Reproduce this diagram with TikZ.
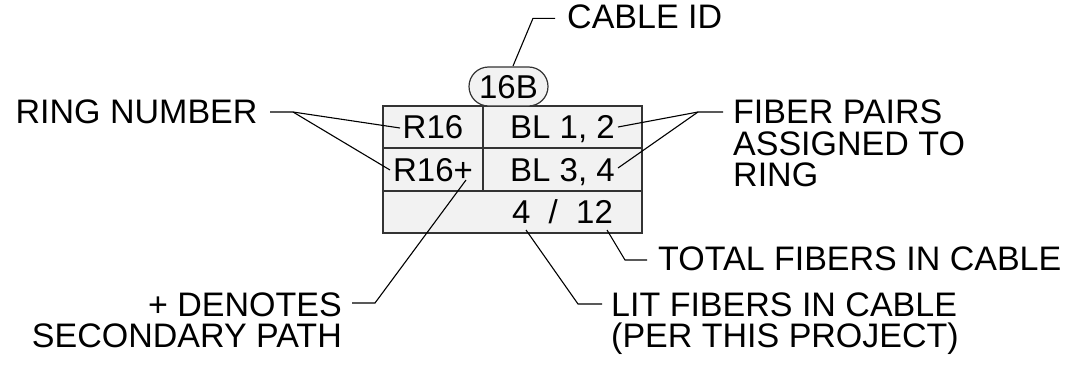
\documentclass[tikz,border=0pt]{standalone}
\usepackage{fontspec}
\setmainfont{Liberation Sans}
\begin{document}
\begin{tikzpicture}[x=1pt,y=-1pt,
  lbl/.style={inner sep=0pt, font=\fontsize{34}{31.5}\selectfont, align=left},
  cell/.style={draw=black!80, fill=black!5, line width=1.2pt, inner sep=0pt,
    text height=23pt, text depth=0pt, font=\fontsize{33}{33}\selectfont},
  lead/.style={line width=1.1pt, black}]
\useasboundingbox (0,0) rectangle (1078,380);
% table
\node[cell, minimum width=100pt, minimum height=42pt] (r1) at (433,127) {R16};
\node[cell, minimum width=159pt, minimum height=42pt] (b1) at (562.5,127) {BL 1, 2};
\node[cell, minimum width=100pt, minimum height=43pt] (r2) at (433,169.5) {R16+};
\node[cell, minimum width=159pt, minimum height=43pt] (b2) at (562.5,169.5) {BL 3, 4};
\node[cell, minimum width=259pt, minimum height=42pt] (tot) at (512.5,212) {};
\node[inner sep=0pt, text height=23pt, text depth=0pt, font=\fontsize{33}{33}\selectfont] (cnt) at (562.5,212) {4\ \ /\ \ 12};
% cable id oval
\node[cell, rounded corners=19.5pt, minimum width=79pt, minimum height=39pt] (id) at (508.5,86.5) {16B};
% labels (multi-line nodes: base = last line's baseline)
\node[lbl, anchor=base west] (cid) at (567,28) {CABLE ID};
\node[lbl, anchor=base west] (ring) at (15.5,123) {RING NUMBER};
\node[lbl, anchor=base west] (fib) at (733,186.5) {FIBER PAIRS\\ASSIGNED TO\\RING};
\node[lbl, anchor=base west] (total) at (658,270) {TOTAL FIBERS IN CABLE};
\node[lbl, anchor=base west] (lit) at (611,347.5) {LIT FIBERS IN CABLE\\(PER THIS PROJECT)};
\node[lbl, anchor=base east, align=right] (den) at (342,347.5) {+ DENOTES\\SECONDARY PATH};
% leader points
\coordinate (cidA) at (513,66);
\coordinate (cidB) at (533,18.3);
\coordinate (cidC) at (555,18.3);
\coordinate (rnA) at (270,112);
\coordinate (rnB) at (293,112);
\coordinate (rnC) at (400,128);
\coordinate (rnD) at (390,170);
\coordinate (fpA) at (723,112);
\coordinate (fpB) at (698,112);
\coordinate (fpC) at (618,127);
\coordinate (fpD) at (618,168);
\coordinate (tfA) at (607,230);
\coordinate (tfB) at (625,260);
\coordinate (tfC) at (647,260);
\coordinate (lfA) at (526,230);
\coordinate (lfB) at (578,304);
\coordinate (lfC) at (602,304);
\coordinate (dnA) at (352,303);
\coordinate (dnB) at (375,303);
\coordinate (dnC) at (466,180);
% leaders
\draw[lead] (cidA) -- (cidB) -- (cidC);
\draw[lead] (rnA) -- (rnB) -- (rnC);
\draw[lead] (rnB) -- (rnD);
\draw[lead] (fpA) -- (fpB) -- (fpC);
\draw[lead] (fpB) -- (fpD);
\draw[lead] (tfA) -- (tfB) -- (tfC);
\draw[lead] (lfA) -- (lfB) -- (lfC);
\draw[lead] (dnA) -- (dnB) -- (dnC);
\end{tikzpicture}
\end{document}
